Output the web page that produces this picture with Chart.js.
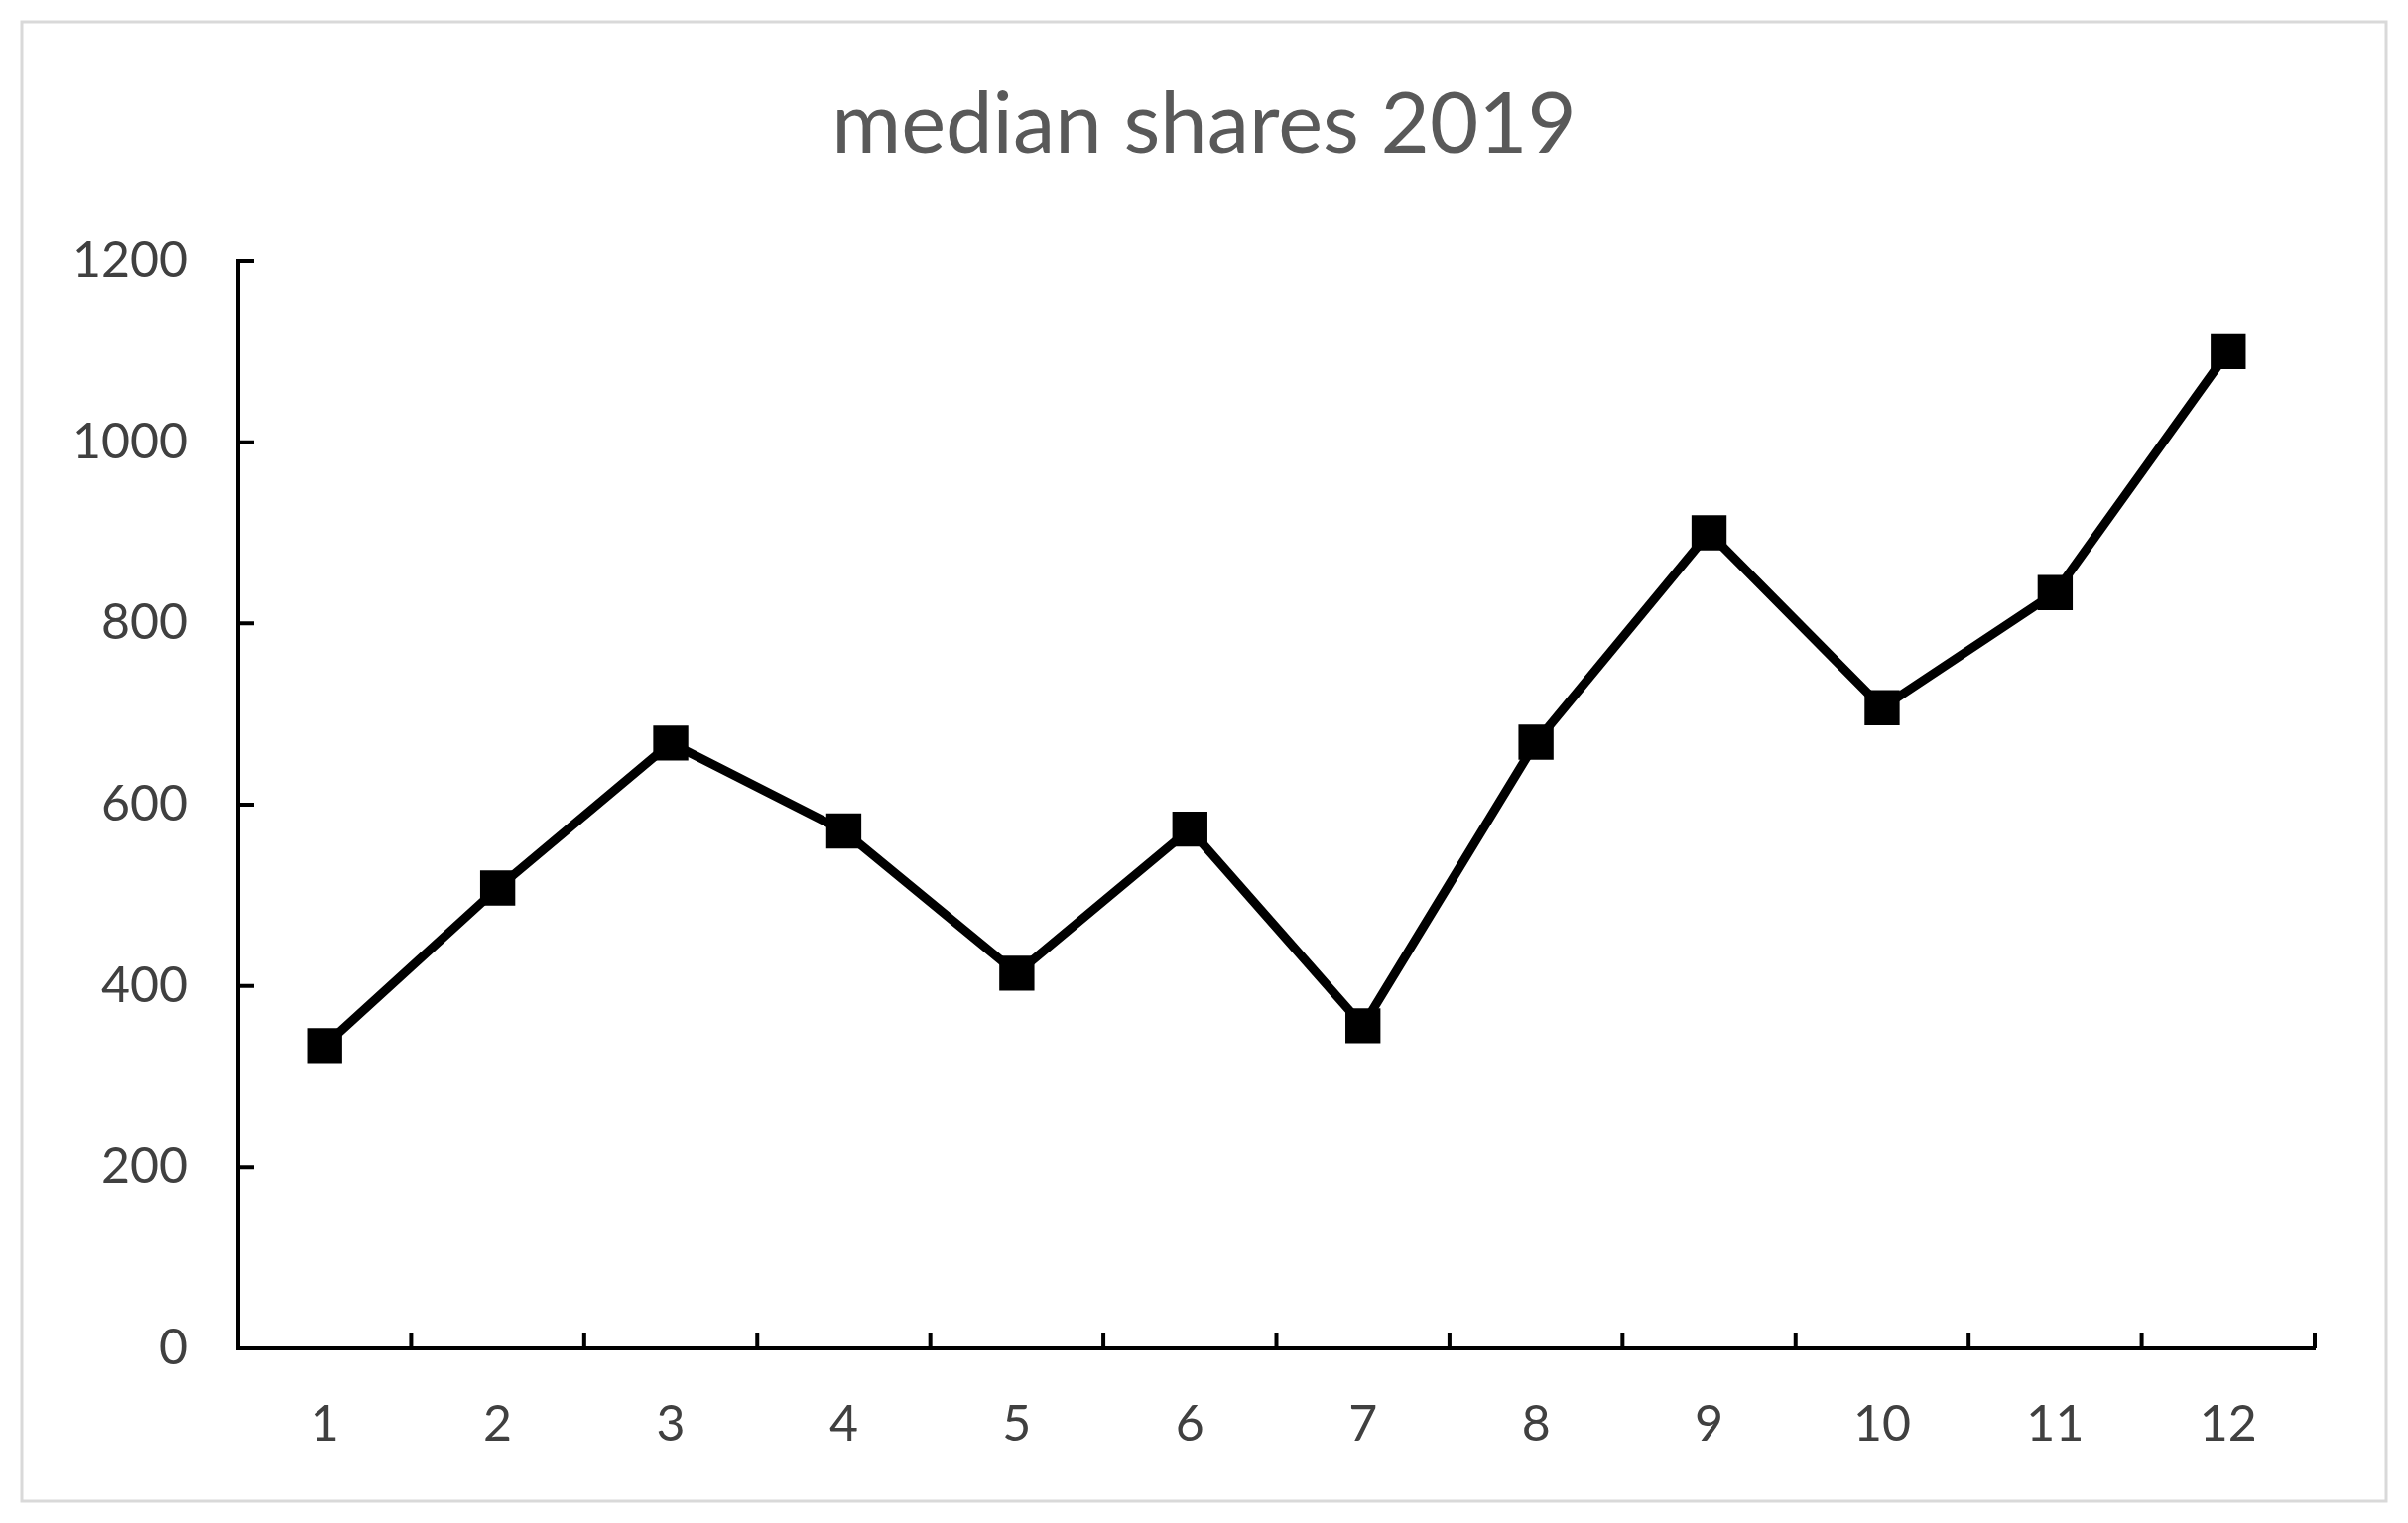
<!DOCTYPE html>
<html>
<head>
<meta charset="utf-8">
<script src="https://cdn.jsdelivr.net/npm/chart.js@4"></script>
<style>
  html, body { margin: 0; padding: 0; background: #fff; }
  #wrap { width: 2427px; height: 1535px; position: relative; }
</style>
</head>
<body>
<div id="wrap"><canvas id="sharesChart"></canvas></div>
<script>
// data
const months = ['1', '2', '3', '4', '5', '6', '7', '8', '9', '10', '11', '12'];
const medianShares = [334, 508, 668, 571, 414, 573, 356, 669, 900, 707, 834, 1100];
const yTicks = [0, 200, 400, 600, 800, 1000, 1200];

const titleGray = '#595959';
const tickGray = '#404040';
const fontName = 'Lato, "Open Sans", sans-serif';

// light frame round the whole chart
const framePlugin = {
  id: 'frame',
  beforeDraw(chart) {
    const ctx = chart.ctx;
    ctx.save();
    ctx.strokeStyle = '#d9d9d9';
    ctx.lineWidth = 3;
    ctx.strokeRect(22, 22, chart.width - 44, chart.height - 44);
    ctx.restore();
  }
};

// tick marks pointing into the plot, like the excel original
const innerTicks = {
  id: 'innerTicks',
  afterDraw(chart) {
    const ctx = chart.ctx;
    const x = chart.scales.x;
    const y = chart.scales.y;
    const len = 16;
    ctx.save();
    ctx.strokeStyle = '#000';
    ctx.lineWidth = 4;
    ctx.beginPath();
    // x: on category boundaries
    const n = x.ticks.length;
    for (let i = 1; i <= n; i++) {
      let px;
      if (i === n) px = x.right;
      else px = (x.getPixelForTick(i - 1) + x.getPixelForTick(i)) / 2;
      ctx.moveTo(px, x.top);
      ctx.lineTo(px, x.top - len);
    }
    // y: every labelled value
    y.ticks.forEach(function (t, i) {
      const py = y.getPixelForTick(i);
      ctx.moveTo(y.right, py);
      ctx.lineTo(y.right + len, py);
    });
    ctx.stroke();
    ctx.restore();
  }
};

const ctx = document.getElementById('sharesChart').getContext('2d');

const chart = new Chart(ctx, {
  type: 'line',
  data: {
    labels: months,
    datasets: [{
      label: 'median shares',
      data: medianShares,
      borderColor: '#000',
      borderWidth: 9,
      tension: 0,
      fill: false,
      pointStyle: 'rect',
      pointRadius: 25,
      pointHoverRadius: 25,
      pointBackgroundColor: '#000',
      pointBorderWidth: 0
    }]
  },
  options: {
    responsive: true,
    maintainAspectRatio: false,
    animation: false,
    layout: {
      padding: { top: 22, left: 30, right: 30, bottom: 30 }
    },
    plugins: {
      legend: { display: false },
      tooltip: { enabled: false },
      title: {
        display: true,
        text: 'median shares 2019',
        color: titleGray,
        font: { family: fontName, size: 85, weight: 'normal' },
        padding: { top: 54, bottom: 85 }
      }
    },
    scales: {
      x: {
        type: 'category',
        offset: true,
        grid: { display: false, drawTicks: false },
        border: { display: true, color: '#000', width: 4 },
        ticks: {
          color: tickGray,
          font: { family: fontName, size: 50 },
          padding: 47,
          maxRotation: 0
        },
        afterFit(scale) { scale.height = 146; }
      },
      y: {
        min: 0,
        max: 1200,
        grid: { display: false, drawTicks: false },
        border: { display: true, color: '#000', width: 4 },
        afterBuildTicks(scale) {
          scale.ticks = yTicks.map(function (v) { return { value: v }; });
        },
        ticks: {
          color: tickGray,
          font: { family: fontName, size: 50 },
          padding: 51,
          callback: function (v) { return String(v); }
        },
        afterFit(scale) { scale.width = 210; }
      },
      // empty right-hand axis, only keeps the plot's right margin
      yRight: {
        position: 'right',
        min: 0,
        max: 1200,
        grid: { display: false, drawTicks: false },
        border: { display: false },
        ticks: { display: false },
        afterFit(scale) { scale.width = 64; }
      }
    }
  },
  plugins: [framePlugin, innerTicks]
});
</script>
</body>
</html>
